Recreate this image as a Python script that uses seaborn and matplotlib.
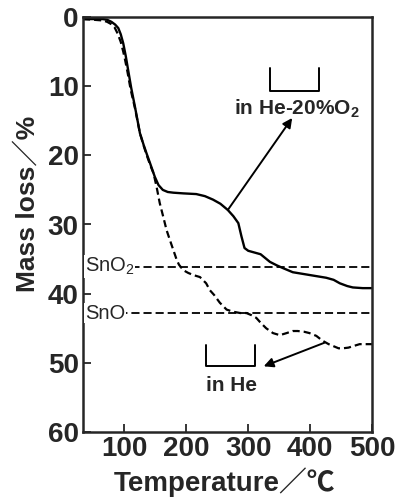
import matplotlib
matplotlib.use("Agg")
import matplotlib.pyplot as plt
import seaborn as sns
import pandas as pd

# --- data ---
temp_o2 = [33, 50, 65, 72, 79, 85, 90, 94, 98, 102, 106, 111, 117, 125, 131, 136, 142, 149,
           155, 162, 170, 179, 195, 216, 230, 243, 255, 267, 276, 284, 289, 294, 300, 308,
           320, 335, 346, 356, 372, 399, 426, 438, 448, 460, 469, 485, 500]
loss_o2 = [0.3, 0.3, 0.3, 0.4, 0.7, 1.1, 1.6, 2.5, 3.8, 5.6, 7.7, 10.3, 13.0, 16.8, 18.5, 19.8,
           21.3, 23.1, 24.3, 25.0, 25.3, 25.4, 25.5, 25.6, 25.9, 26.4, 27.0, 27.9, 28.8, 29.8,
           31.7, 33.4, 33.8, 34.0, 34.3, 35.4, 35.9, 36.3, 36.9, 37.3, 37.7, 38.0, 38.5, 38.9,
           39.1, 39.2, 39.2]

temp_he = [33, 50, 65, 72, 78, 84, 89, 94, 98, 101, 105, 110, 117, 125, 131, 136, 142, 147,
           152, 157, 163, 168, 174, 179, 184, 188, 195, 203, 211, 222, 232, 238, 245, 254,
           265, 275, 287, 297, 305, 313, 320, 329, 340, 351, 362, 372, 380, 390, 399, 410,
           420, 430, 438, 446, 453, 462, 469, 480, 490, 500]
loss_he = [0.3, 0.4, 0.5, 0.7, 1.0, 1.5, 2.4, 3.6, 5.0, 6.2, 8.0, 10.5, 13.2, 16.8, 18.6, 20.0,
           21.5, 22.6, 24.6, 26.9, 29.0, 30.8, 32.4, 33.7, 35.0, 35.8, 36.6, 37.0, 37.3, 37.6,
           38.5, 39.5, 40.2, 41.3, 42.3, 42.6, 42.8, 42.8, 43.1, 43.5, 44.2, 45.0, 45.7, 46.0,
           45.7, 45.4, 45.4, 45.5, 45.7, 46.1, 46.8, 47.3, 47.6, 47.9, 47.9, 47.8, 47.6, 47.3,
           47.3, 47.3]

ref_labels = ["SnO$_\\mathrm{2}$", "SnO"]
ref_values = [36.1, 42.8]

x_ticks = [100, 200, 300, 400, 500]
y_ticks = [0, 10, 20, 30, 40, 50, 60]

sns.set_style("ticks")
plt.rcParams["font.family"] = ["Liberation Sans", "Noto Sans CJK JP", "DejaVu Sans"]
plt.rcParams["mathtext.fontset"] = "custom"
plt.rcParams["mathtext.rm"] = "Liberation Sans"
plt.rcParams["mathtext.bf"] = "Liberation Sans:bold"

fig = plt.figure(figsize=(4.01, 4.98), dpi=100)
ax = fig.add_axes([83 / 401, 1 - 432 / 498, (372 - 83) / 401, (432 - 17) / 498])

df_o2 = pd.DataFrame({"T": temp_o2, "m": loss_o2})
df_he = pd.DataFrame({"T": temp_he, "m": loss_he})

sns.lineplot(data=df_o2, x="T", y="m", ax=ax, color="black", lw=1.7, sort=False)
sns.lineplot(data=df_he, x="T", y="m", ax=ax, color="black", lw=1.6, sort=False,
             linestyle=(0, (3.2, 1.8)))

for lab, val in zip(ref_labels, ref_values):
    ax.axhline(val, color="black", lw=1.3, linestyle=(0, (4.5, 2.2)), zorder=1)
    ax.text(36, val, lab, fontsize=14.5, va="center", ha="left", zorder=3,
            bbox=dict(facecolor="white", edgecolor="none", pad=0.5))

ax.set_xlim(33, 500)
ax.set_ylim(60, 0)
ax.set_xticks(x_ticks)
ax.set_yticks(y_ticks)
ax.tick_params(direction="in", length=6, width=1.3, labelsize=20, pad=3)
for lab in ax.get_xticklabels() + ax.get_yticklabels():
    lab.set_fontweight("bold")
for sp in ax.spines.values():
    sp.set_visible(True)
    sp.set_linewidth(1.8)

ax.set_xlabel("Temperature／℃", fontsize=20, fontweight="bold")
ax.set_ylabel("Mass loss／%", fontsize=19, fontweight="bold")
ax.xaxis.set_label_coords(0.49, -0.085)
ax.yaxis.set_label_coords(-0.15, 0.55)

# annotations
ax.plot([334.7, 334.7, 413.7, 413.7], [7.4, 10.7, 10.7, 7.4], color="black", lw=1.4)
ax.text(277, 13.2, "in He-20%O$_\\mathbf{2}$", fontsize=15, fontweight="bold",
        ha="left", va="center")
ax.annotate("", xy=(371, 14.6), xytext=(267, 27.9),
            arrowprops=dict(arrowstyle="-|>", color="black", lw=1.4, mutation_scale=14,
                            shrinkA=0, shrinkB=0))

ax.plot([231, 231, 310.5, 310.5], [47.4, 50.4, 50.4, 47.4], color="black", lw=1.4)
ax.text(232, 53.3, "in He", fontsize=15, fontweight="bold", ha="left", va="center")
ax.annotate("", xy=(325, 50.5), xytext=(423, 47.1),
            arrowprops=dict(arrowstyle="-|>", color="black", lw=1.4, mutation_scale=14,
                            shrinkA=0, shrinkB=0))

fig.savefig("out.png", dpi=100)
